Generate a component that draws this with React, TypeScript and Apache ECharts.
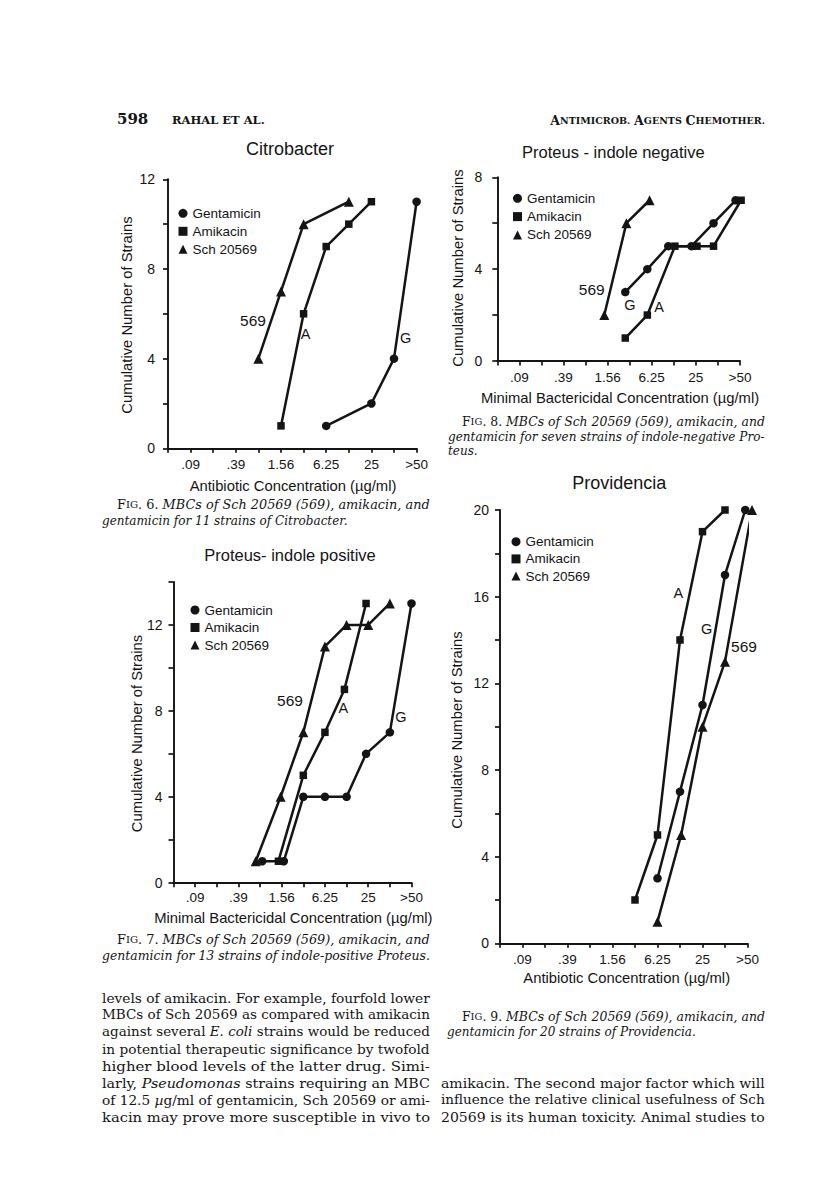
import React, { useEffect, useRef } from 'react';
import * as echarts from 'echarts';

// ---------- shared axis data ----------
const xTickLabels = ['', '.09', '', '.39', '', '1.56', '', '6.25', '', '25', '', '>50'];
const seriesNames = ['Gentamicin', 'Amikacin', 'Sch 20569'];
const seriesIcons = ['circle', 'rect', 'triangle'];

// ---------- Fig 6: Citrobacter ----------
const citroGentX = [7, 9, 10, 11];
const citroGentY = [1, 2, 4, 11];
const citroAmiX = [5, 6, 7, 8, 9];
const citroAmiY = [1, 6, 9, 10, 11];
const citroSchX = [4, 5, 6, 8];
const citroSchY = [4, 7, 10, 11];

// ---------- Fig 8: Proteus - indole negative ----------
const negGentX = [5.8, 6.8, 7.75, 8.8, 9.8, 10.8];
const negGentY = [3, 4, 5, 5, 6, 7];
const negAmiX = [5.8, 6.8, 8.05, 9.05, 9.8, 11.05];
const negAmiY = [1, 2, 5, 5, 5, 7];
const negSchX = [4.85, 5.85, 6.9];
const negSchY = [2, 6, 7];

// ---------- Fig 7: Proteus - indole positive ----------
const posGentX = [4.1, 5.1, 6, 7, 8, 8.9, 10, 11];
const posGentY = [1, 1, 4, 4, 4, 6, 7, 13];
const posAmiX = [4.85, 6, 7, 7.9, 8.9];
const posAmiY = [1, 5, 7, 9, 13];
const posSchX = [3.8, 4.95, 6, 7, 8, 9, 10];
const posSchY = [1, 4, 7, 11, 12, 12, 13];

// ---------- Fig 9: Providencia ----------
const provGentX = [7, 8, 9, 10, 10.9];
const provGentY = [3, 7, 11, 17, 20];
const provAmiX = [6, 7, 8, 9, 10];
const provAmiY = [2, 5, 14, 19, 20];
const provSchX = [7, 8.05, 9, 10, 11.2];
const provSchY = [1, 5, 10, 13, 20];

const yMaxes = [12, 8, 14, 20];

const SANS = '"Liberation Sans", Arial, sans-serif';
const SERIF = '"DejaVu Serif", serif';
const INK = '#141414';

type Seg = [string, string]; // [text, style key]

export default function App() {
  const ref = useRef<HTMLDivElement>(null);

  useEffect(() => {
    if (!ref.current) return;
    const chart = echarts.init(ref.current, undefined, { renderer: 'svg' });

    const grids = [
      { left: 168, top: 179.3, width: 248.6, height: 269 },
      { left: 497.3, top: 177.3, width: 242.7, height: 183.7 },
      { left: 173.5, top: 582, width: 238, height: 300.7 },
      { left: 500, top: 510, width: 247.5, height: 433.3 },
    ];
    const yLabelMargins = [13, 15, 11, 11];
    const xLabelMargins = [9, 9, 8, 9];

    const xAxes = grids.map((_, i) => ({
      type: 'value',
      gridIndex: i,
      min: 0,
      max: 11,
      interval: 1,
      splitLine: { show: false },
      axisLine: { show: true, lineStyle: { color: INK, width: 1.9 } },
      axisTick: { show: true, inside: false, length: 4.5, lineStyle: { color: INK, width: 1.7 } },
      axisLabel: {
        margin: xLabelMargins[i],
        fontFamily: SANS,
        fontSize: 13.5,
        color: INK,
        formatter: (v: number) => xTickLabels[Math.round(v)] ?? '',
      },
    }));

    const yAxes = grids.map((_, i) => ({
      type: 'value',
      gridIndex: i,
      min: 0,
      max: yMaxes[i],
      interval: 2,
      splitLine: { show: false },
      axisLine: { show: true, onZero: false, lineStyle: { color: INK, width: 1.9 } },
      axisTick: { show: true, inside: false, length: 5, lineStyle: { color: INK, width: 1.7 } },
      axisLabel: {
        margin: yLabelMargins[i],
        fontFamily: SANS,
        fontSize: 14,
        color: INK,
        formatter: (v: number) => (v % 4 === 0 ? String(v) : ''),
      },
    }));

    const symbolSizes = [8.5, 7.5, 10];
    const mk = (k: number, xs: number[], ys: number[], gi: number) => ({
      type: 'line',
      name: seriesNames[k],
      xAxisIndex: gi,
      yAxisIndex: gi,
      data: xs.map((x, j) => [x, ys[j]]),
      symbol: seriesIcons[k],
      symbolSize: symbolSizes[k],
      showSymbol: true,
      clip: false,
      lineStyle: { color: INK, width: 2.5 },
      itemStyle: { color: INK },
      emphasis: { disabled: true },
    });

    const series = [
      mk(0, citroGentX, citroGentY, 0),
      mk(1, citroAmiX, citroAmiY, 0),
      mk(2, citroSchX, citroSchY, 0),
      mk(0, negGentX, negGentY, 1),
      mk(1, negAmiX, negAmiY, 1),
      mk(2, negSchX, negSchY, 1),
      mk(0, posGentX, posGentY, 2),
      mk(1, posAmiX, posAmiY, 2),
      mk(2, posSchX, posSchY, 2),
      mk(0, provGentX, provGentY, 3),
      mk(1, provAmiX, provAmiY, 3),
      mk(2, provSchX, provSchY, 3),
    ];

    const legendPos = [
      { left: 178.5, top: 206.3, gap: 4 },
      { left: 513, top: 191.3, gap: 4.3 },
      { left: 190.5, top: 603, gap: 3.5 },
      { left: 511.5, top: 534.7, gap: 3.2 },
    ];
    const legend = legendPos.map((p) => ({
      orient: 'vertical',
      left: p.left,
      top: p.top,
      padding: 0,
      itemWidth: 9,
      itemHeight: 9,
      itemGap: p.gap,
      selectedMode: false,
      data: seriesNames.map((n, k) => ({ name: n, icon: seriesIcons[k] })),
      textStyle: { fontFamily: SANS, fontSize: 13.5, color: INK, lineHeight: 14, padding: [0, 0, 0, 0] },
    }));

    // --- text measuring for justified lines ---
    const ctx = document.createElement('canvas').getContext('2d') as CanvasRenderingContext2D;
    const fontDefs: Record<string, { size: number; style: string; weight: string }> = {
      r: { size: 13.3, style: 'normal', weight: 'normal' },
      i: { size: 13.3, style: 'italic', weight: 'normal' },
      sc: { size: 12, style: 'normal', weight: 'normal' },
      scs: { size: 9.5, style: 'normal', weight: 'normal' },
      it: { size: 12, style: 'italic', weight: 'normal' },
    };
    const fontStr = (k: string) => {
      const d = fontDefs[k];
      return `${d.style} ${d.weight} ${d.size}px ${SERIF}`;
    };
    const measure = (segs: Seg[]) =>
      segs.reduce((s, [t, k]) => {
        ctx.font = fontStr(k);
        return s + ctx.measureText(t).width;
      }, 0);
    const rich: Record<string, any> = {};
    Object.keys(fontDefs).forEach((k) => {
      const d = fontDefs[k];
      rich[k] = { fontFamily: SERIF, fontSize: d.size, fontStyle: d.style, fontWeight: d.weight, fill: INK };
    });

    const line = (segs: Seg[], x: number, y: number, right: number | null) => {
      const natural = measure(segs);
      const sx = right ? (right - x) / natural : 1;
      const single = segs.length === 1;
      const d = fontDefs[segs[0][1]];
      return {
        type: 'text',
        x,
        y,
        scaleX: sx,
        silent: true,
        style: single
          ? {
              text: segs[0][0],
              fill: INK,
              fontFamily: SERIF,
              fontSize: d.size,
              fontStyle: d.style,
              fontWeight: d.weight,
              align: 'left',
              verticalAlign: 'middle',
            }
          : {
              text: segs.map(([t, k]) => `{${k}|${t}}`).join(''),
              rich,
              fill: INK,
              fontFamily: SERIF,
              fontSize: d.size,
              align: 'left',
              verticalAlign: 'middle',
            },
      };
    };

    const txt = (
      text: string,
      x: number,
      y: number,
      o: { size?: number; family?: string; align?: string; weight?: string; rot?: number; rich?: any } = {}
    ) => ({
      type: 'text',
      x,
      y,
      rotation: o.rot ?? 0,
      silent: true,
      style: {
        text,
        fill: INK,
        fontFamily: o.family ?? SANS,
        fontSize: o.size ?? 13,
        fontWeight: o.weight ?? 'normal',
        align: o.align ?? 'center',
        verticalAlign: 'middle',
        rich: o.rich,
      },
    });

    const figHead = (n: string): Seg[] => [
      ['F', 'sc'],
      ['IG', 'scs'],
      [`. ${n}. `, 'sc'],
      ['MBCs of Sch 20569 (569), amikacin, and', 'it'],
    ];

    const HALF = Math.PI / 2;
    const L = 102;
    const LR = 430;
    const R = 441;
    const RR = 765;
    const graphic = [
      // page header
      txt('598', 117, 119, { align: 'left', family: SERIF, size: 15, weight: 'bold' }),
      txt('RAHAL ET AL.', 172, 120, { align: 'left', family: SERIF, size: 11.5, weight: 'bold' }),
      txt('{a|A}{b|NTIMICROB.} {a|A}{b|GENTS} {a|C}{b|HEMOTHER.}', 765, 120, {
        align: 'right',
        family: SERIF,
        size: 12,
        rich: {
          a: { fontFamily: SERIF, fontSize: 12.5, fontWeight: 'bold', fill: INK },
          b: { fontFamily: SERIF, fontSize: 9.5, fontWeight: 'bold', fill: INK },
        },
      }),

      // Fig 6
      txt('Citrobacter', 290, 149, { size: 18 }),
      txt('Cumulative Number of Strains', 127, 315, { size: 14.8, rot: HALF }),
      txt('Antibiotic Concentration (\u00b5g/ml)', 293, 486, { size: 14.8 }),
      txt('569', 253, 320, { size: 15.5 }),
      txt('A', 305.7, 334.3, { size: 14.5 }),
      txt('G', 405.7, 338.3, { size: 14.5 }),
      line(figHead('6'), 117, 505, LR),
      line([['gentamicin for 11 strains of Citrobacter.', 'it']], L, 521, null),

      // Fig 8
      txt('Proteus - indole negative', 613.3, 151.7, { size: 16.5 }),
      txt('Cumulative Number of Strains', 458, 268, { size: 14.8, rot: HALF }),
      txt('Minimal Bactericidal Concentration (\u00b5g/ml)', 620, 397.7, { size: 14.8 }),
      txt('569', 591.7, 289, { size: 15.5 }),
      txt('G', 630, 305, { size: 14.5 }),
      txt('A', 659, 306.7, { size: 14.5 }),
      line(figHead('8'), 462, 421.7, RR),
      line([['gentamicin for seven strains of indole-negative Pro-', 'it']], 448, 436.7, RR),
      line([['teus.', 'it']], 448, 450.5, null),

      // Fig 7
      txt('Proteus- indole positive', 290, 555, { size: 16.5 }),
      txt('Cumulative Number of Strains', 137.3, 733.5, { size: 14.8, rot: HALF }),
      txt('Minimal Bactericidal Concentration (\u00b5g/ml)', 293.3, 918.3, { size: 14.8 }),
      txt('569', 290, 700.7, { size: 15.5 }),
      txt('A', 343.3, 708.3, { size: 14.5 }),
      txt('G', 401, 716.7, { size: 14.5 }),
      line(figHead('7'), 117, 940, LR),
      line([['gentamicin for 13 strains of indole-positive Proteus.', 'it']], L, 956, LR),

      // Fig 9
      txt('Providencia', 619.3, 482.7, { size: 18 }),
      txt('Cumulative Number of Strains', 457.3, 730, { size: 14.8, rot: HALF }),
      txt('Antibiotic Concentration (\u00b5g/ml)', 626.7, 978.3, { size: 14.8 }),
      txt('A', 678.3, 593.3, { size: 14.5 }),
      txt('G', 706.7, 629.3, { size: 14.5 }),
      txt('569', 744, 646.7, { size: 15.5 }),
      line(figHead('9'), 462, 1017, RR),
      line([['gentamicin for 20 strains of Providencia.', 'it']], 447, 1032, null),

      // body text, left column
      line([['levels of amikacin. For example, fourfold lower', 'r']], L, 998, LR),
      line([['MBCs of Sch 20569 as compared with amikacin', 'r']], L, 1015, LR),
      line([['against several ', 'r'], ['E. coli', 'i'], [' strains would be reduced', 'r']], L, 1032, LR),
      line([['in potential therapeutic significance by twofold', 'r']], L, 1049, LR),
      line([['higher blood levels of the latter drug. Simi-', 'r']], L, 1066, LR),
      line([['larly, ', 'r'], ['Pseudomonas', 'i'], [' strains requiring an MBC', 'r']], L, 1083, LR),
      line([['of 12.5 ', 'r'], ['\u00b5', 'i'], ['g/ml of gentamicin, Sch 20569 or ami-', 'r']], L, 1100, LR),
      line([['kacin may prove more susceptible in vivo to', 'r']], L, 1117, LR),
      // body text, right column
      line([['amikacin. The second major factor which will', 'r']], R, 1083, RR),
      line([['influence the relative clinical usefulness of Sch', 'r']], R, 1100, RR),
      line([['20569 is its human toxicity. Animal studies to', 'r']], R, 1117, RR),
    ];

    chart.setOption({
      animation: false,
      backgroundColor: '#ffffff',
      grid: grids.map((g) => ({ ...g, containLabel: false })),
      xAxis: xAxes,
      yAxis: yAxes,
      legend,
      series,
      graphic,
    });

    return () => chart.dispose();
  }, []);

  return (
    <div
      ref={ref}
      style={{ position: 'absolute', left: 0, top: 0, width: 816, height: 1193, background: '#fff' }}
    />
  );
}
